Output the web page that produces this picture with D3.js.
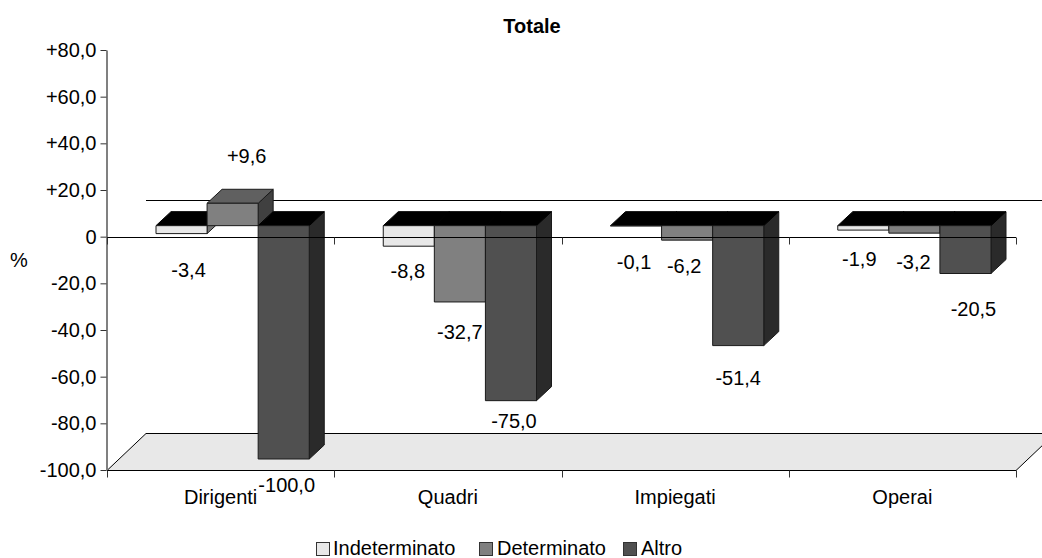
<!DOCTYPE html>
<html lang="it">
<head>
<meta charset="utf-8">
<title>Totale</title>
<script src="https://cdn.jsdelivr.net/npm/d3@7"></script>
<style>
  html, body { margin: 0; padding: 0; background: #fff; }
  svg { display: block; }
  text { font-family: "Liberation Sans", Arial, sans-serif; fill: #000; }
</style>
</head>
<body>
<svg id="chart" width="1042" height="558"></svg>
<script>
const categories = ["Dirigenti", "Quadri", "Impiegati", "Operai"];
const seriesNames = ["Indeterminato", "Determinato", "Altro"];
const indeterminato = [-3.4, -8.8, -0.1, -1.9];
const determinato = [9.6, -32.7, -6.2, -3.2];
const altro = [-100.0, -75.0, -51.4, -20.5];
const seriesValues = [indeterminato, determinato, altro];
const yTicks = [80, 60, 40, 20, 0, -20, -40, -60, -80, -100];

// Hand placement of each value label relative to the centre and end of its bar.
const labelNudge = [
  [[7, 36], [14, -47], [3, 26]],
  [[-1, 25], [0, 30], [3, 20]],
  [[-2, 36], [-3, 26], [0, 32]],
  [[-4, 29], [-1, 29], [8, 35]]
];

const colors = {
  front: ["#e8e8e8", "#808080", "#505050"],
  side: ["#747474", "#404040", "#2a2a2a"],
  topPositive: ["#f4f4f4", "#606060", "#3c3c3c"]
};

const FONT = 20;
const plot = { left: 107, right: 1016, top: 50, bottom: 470 };
const depth = { x: 39, y: 37 };          // floor and back wall offset
const barShift = { x: 12, y: 11 };       // bars sit part way into the depth
const barDepth = { x: 15, y: 14 };       // extrusion of one bar
const innerGap = 37;                     // space between plot band and bar cluster

const svg = d3.select("#chart");

const y = d3.scaleLinear().domain([-100, 80]).range([plot.bottom, plot.top]);
const x = d3.scaleBand().domain(categories).range([plot.left, plot.right]);
const x1 = d3.scaleBand().domain(seriesNames)
  .range([innerGap + barShift.x, x.bandwidth() - innerGap + barShift.x]);

const fmt = v => (v > 0 ? "+" : "") + d3.format(".1f")(v).replace(".", ",").replace("−", "-");
const poly = pts => pts.map(p => p.join(",")).join(" ");
const crisp = v => Math.round(v) + 0.5;   // centre a 1px stroke on a pixel row

// Floor of the 3D plot box
const floorBack = crisp(plot.bottom - depth.y);
svg.append("polygon")
  .attr("points", poly([
    [plot.left, crisp(plot.bottom)],
    [plot.left + depth.x, floorBack],
    [plot.right + depth.x, floorBack],
    [plot.right, crisp(plot.bottom)]
  ]))
  .attr("fill", "#e8e8e8").attr("stroke", "#000").attr("stroke-width", 1);

// Zero line on the back wall
svg.append("line")
  .attr("x1", plot.left + depth.x).attr("x2", plot.right + depth.x)
  .attr("y1", crisp(y(0) - depth.y)).attr("y2", crisp(y(0) - depth.y))
  .attr("stroke", "#000").attr("stroke-width", 1);

// Extruded bars, painted left to right so nearer side faces overlap correctly
const barBase = y(0) - barShift.y;
const scaleV = v => y(v) - y(0);

categories.forEach((cat, ci) => {
  seriesNames.forEach((name, si) => {
    const v = seriesValues[si][ci];
    const x0 = x(cat) + x1(name);
    const x2 = x0 + x1.bandwidth();
    const yEnd = barBase + scaleV(v);
    const yTop = Math.min(barBase, yEnd);
    const yBot = Math.max(barBase, yEnd);
    const g = svg.append("g").attr("class", "bar");
    const face = (pts, fill, stroke) => g.append("polygon")
      .attr("points", poly(pts))
      .attr("fill", fill)
      .attr("stroke", stroke)
      .attr("stroke-width", 1)
      .attr("stroke-linejoin", "round");
    // side
    face([[x2, yTop], [x2 + barDepth.x, yTop - barDepth.y],
          [x2 + barDepth.x, yBot - barDepth.y], [x2, yBot]], colors.side[si], "#1a1a1a");
    // top: positive bars show their lit cap, negative bars open onto a black base
    face([[x0, yTop], [x2, yTop], [x2 + barDepth.x, yTop - barDepth.y],
          [x0 + barDepth.x, yTop - barDepth.y]],
         v > 0 ? colors.topPositive[si] : "#000", v > 0 ? "#1a1a1a" : "#000");
    // front
    face([[x0, yTop], [x2, yTop], [x2, yBot], [x0, yBot]], colors.front[si], "#1a1a1a");
  });
});

// Value axis: a heavier grey spine with fine dark ticks
const yAxis = d3.axisLeft(y).tickValues(yTicks).tickSize(6).tickSizeOuter(0)
  .tickFormat(v => (v > 0 ? "+" : "") + (v === 0 ? "0" : d3.format(".1f")(v).replace(".", ",").replace("−", "-")));
const gy = svg.append("g").attr("transform", `translate(${plot.left - 0.5},0)`).call(yAxis);
gy.select(".domain").attr("stroke", "#808080").attr("stroke-width", 2);
gy.selectAll(".tick line").attr("stroke", "#333");
gy.selectAll("text").attr("font-size", FONT).attr("font-family", null).attr("x", -10).attr("fill", "#000");

// Bottom axis and zero axis, both carrying category ticks
const catTicks = d3.range(categories.length + 1).map(i => plot.left + i * x.bandwidth());
[plot.bottom, y(0)].forEach(py => {
  const row = crisp(py);
  svg.append("line").attr("x1", plot.left).attr("x2", plot.right)
    .attr("y1", row).attr("y2", row).attr("stroke", "#000");
  svg.selectAll(null).data(catTicks).join("line")
    .attr("x1", d => Math.round(d) + 0.5).attr("x2", d => Math.round(d) + 0.5)
    .attr("y1", row).attr("y2", row + 7)
    .attr("stroke", "#333");
});

// Category labels
svg.selectAll(null).data(categories).join("text")
  .attr("x", d => x(d) + x.bandwidth() / 2)
  .attr("y", 504)
  .attr("text-anchor", "middle")
  .attr("font-size", FONT)
  .text(d => d);

// Value labels
categories.forEach((cat, ci) => {
  seriesNames.forEach((name, si) => {
    const v = seriesValues[si][ci];
    const [dx, dy] = labelNudge[ci][si];
    svg.append("text")
      .attr("x", x(cat) + x1(name) + x1.bandwidth() / 2 + dx)
      .attr("y", barBase + scaleV(v) + dy + 7)
      .attr("text-anchor", "middle")
      .attr("font-size", FONT)
      .text(fmt(v));
  });
});

// Title and unit
svg.append("text").attr("x", 532).attr("y", 33).attr("text-anchor", "middle")
  .attr("font-size", FONT).attr("font-weight", "bold").text("Totale");
svg.append("text").attr("x", 19).attr("y", 267).attr("text-anchor", "middle")
  .attr("font-size", FONT).text("%");

// Legend
const legendItems = [
  { swatch: 316, label: 333 },
  { swatch: 479, label: 497 },
  { swatch: 623, label: 641 }
];
seriesNames.forEach((name, i) => {
  svg.append("rect")
    .attr("x", legendItems[i].swatch + 0.5).attr("y", 542.5)
    .attr("width", 13).attr("height", 13)
    .attr("fill", colors.front[i]).attr("stroke", "#333");
  svg.append("text").attr("x", legendItems[i].label).attr("y", 555)
    .attr("font-size", FONT).text(name);
});
</script>
</body>
</html>
